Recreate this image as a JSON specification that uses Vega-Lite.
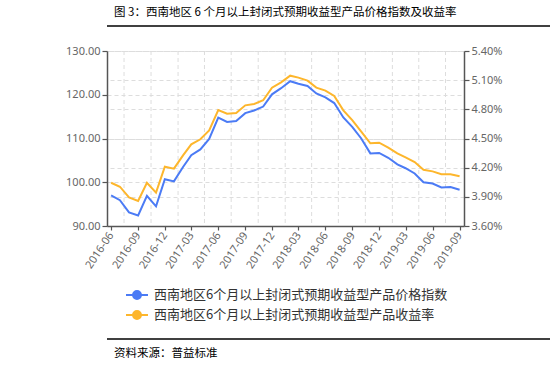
{
  "$schema": "https://vega.github.io/schema/vega-lite/v6.json",
  "background": "white",
  "padding": {"left": 3, "right": 3, "top": 6, "bottom": 4},
  "config": {
    "font": "Noto Sans CJK SC",
    "view": {"stroke": null},
    "axis": {"labelFont": "Noto Sans", "labelFontSize": 11, "labelColor": "#666666", "domainColor": "#555555", "domainWidth": 1.5, "tickColor": "#555555", "tickWidth": 1.2, "tickSize": 5, "gridColor": "#dddddd", "gridDash": [4, 3], "gridWidth": 1, "title": null}
  },
  "title": {"text": "图 3：西南地区 6 个月以上封闭式预期收益型产品价格指数及收益率", "anchor": "start", "frame": "group", "dx": 7, "fontSize": 11.5, "fontWeight": "normal", "color": "#000000", "font": "Noto Sans CJK SC", "offset": 7},
  "datasets": {
    "series": [
      {"date": "2016-06-01", "index": 97.0, "rate": 4.045},
      {"date": "2016-07-01", "index": 95.9, "rate": 4.004},
      {"date": "2016-08-01", "index": 93.1, "rate": 3.895},
      {"date": "2016-09-01", "index": 92.4, "rate": 3.857},
      {"date": "2016-10-01", "index": 96.9, "rate": 4.045},
      {"date": "2016-11-01", "index": 94.5, "rate": 3.943},
      {"date": "2016-12-01", "index": 100.7, "rate": 4.210},
      {"date": "2017-01-01", "index": 100.2, "rate": 4.190},
      {"date": "2017-02-01", "index": 103.5, "rate": 4.327},
      {"date": "2017-03-01", "index": 106.2, "rate": 4.440},
      {"date": "2017-04-01", "index": 107.5, "rate": 4.492},
      {"date": "2017-05-01", "index": 109.9, "rate": 4.584},
      {"date": "2017-06-01", "index": 114.8, "rate": 4.793},
      {"date": "2017-07-01", "index": 113.8, "rate": 4.755},
      {"date": "2017-08-01", "index": 114.0, "rate": 4.762},
      {"date": "2017-09-01", "index": 115.8, "rate": 4.841},
      {"date": "2017-10-01", "index": 116.4, "rate": 4.855},
      {"date": "2017-11-01", "index": 117.3, "rate": 4.893},
      {"date": "2017-12-01", "index": 120.1, "rate": 5.023},
      {"date": "2018-01-01", "index": 121.5, "rate": 5.078},
      {"date": "2018-02-01", "index": 123.1, "rate": 5.146},
      {"date": "2018-03-01", "index": 122.5, "rate": 5.126},
      {"date": "2018-04-01", "index": 122.0, "rate": 5.095},
      {"date": "2018-05-01", "index": 120.3, "rate": 5.023},
      {"date": "2018-06-01", "index": 119.4, "rate": 4.992},
      {"date": "2018-07-01", "index": 118.1, "rate": 4.937},
      {"date": "2018-08-01", "index": 114.8, "rate": 4.790},
      {"date": "2018-09-01", "index": 112.6, "rate": 4.687},
      {"date": "2018-10-01", "index": 110.0, "rate": 4.570},
      {"date": "2018-11-01", "index": 106.6, "rate": 4.451},
      {"date": "2018-12-01", "index": 106.7, "rate": 4.457},
      {"date": "2019-01-01", "index": 105.6, "rate": 4.405},
      {"date": "2019-02-01", "index": 104.1, "rate": 4.348},
      {"date": "2019-03-01", "index": 103.2, "rate": 4.306},
      {"date": "2019-04-01", "index": 102.0, "rate": 4.258},
      {"date": "2019-05-01", "index": 100.0, "rate": 4.179},
      {"date": "2019-06-01", "index": 99.7, "rate": 4.162},
      {"date": "2019-07-01", "index": 98.8, "rate": 4.132},
      {"date": "2019-08-01", "index": 98.9, "rate": 4.132},
      {"date": "2019-09-01", "index": 98.3, "rate": 4.111}
    ],
    "vgrid": [
      {"date": "2016-07-15"}, {"date": "2016-10-15"}, {"date": "2017-01-15"}, {"date": "2017-04-15"},
      {"date": "2017-07-15"}, {"date": "2017-10-15"}, {"date": "2018-01-15"}, {"date": "2018-04-15"},
      {"date": "2018-07-15"}, {"date": "2018-10-15"}, {"date": "2019-01-15"}, {"date": "2019-04-15"},
      {"date": "2019-07-15"}
    ]
  },
  "columns": 1,
  "align": "none",
  "spacing": 10,
  "concat": [
    {
      "width": 544,
      "height": 8.5,
      "data": {"values": [{}]},
      "mark": {"type": "rule", "color": "#000000", "strokeWidth": 1.5},
      "encoding": {"y": {"datum": 1, "type": "quantitative", "axis": null, "scale": {"domain": [0, 1]}}}
    },
    {
      "width": 357,
      "height": 175,
      "data": {"name": "series"},
      "encoding": {
        "x": {
          "field": "date", "type": "temporal",
          "scale": {"type": "utc", "domain": [{"year": 2016, "month": 5, "date": 18, "utc": true}, {"year": 2019, "month": 9, "date": 16, "utc": true}]},
          "axis": {
            "labelExpr": "utcFormat(datum.value, '%Y-%m')", "labelOverlap": false, "labelAngle": -56, "labelAlign": "right", "labelBaseline": "middle", "labelPadding": 3, "grid": false, "tickSize": 4,
            "values": [
              {"year": 2016, "month": 6, "date": 1, "utc": true}, {"year": 2016, "month": 9, "date": 1, "utc": true}, {"year": 2016, "month": 12, "date": 1, "utc": true},
              {"year": 2017, "month": 3, "date": 1, "utc": true}, {"year": 2017, "month": 6, "date": 1, "utc": true}, {"year": 2017, "month": 9, "date": 1, "utc": true}, {"year": 2017, "month": 12, "date": 1, "utc": true},
              {"year": 2018, "month": 3, "date": 1, "utc": true}, {"year": 2018, "month": 6, "date": 1, "utc": true}, {"year": 2018, "month": 9, "date": 1, "utc": true}, {"year": 2018, "month": 12, "date": 1, "utc": true},
              {"year": 2019, "month": 3, "date": 1, "utc": true}, {"year": 2019, "month": 6, "date": 1, "utc": true}, {"year": 2019, "month": 9, "date": 1, "utc": true}
            ]
          }
        }
      },
      "layer": [
        {
          "data": {"name": "vgrid"},
          "mark": {"type": "rule", "color": "#dddddd", "strokeDash": [4, 3], "strokeWidth": 1},
          "encoding": {}
        },
        {
          "mark": {"type": "line", "strokeWidth": 2},
          "encoding": {
            "y": {"field": "index", "type": "quantitative", "scale": {"domain": [90, 130], "zero": false, "nice": false},
              "axis": {"orient": "left", "values": [90, 100, 110, 120, 130], "format": ".2f", "minExtent": 104, "grid": true}},
            "color": {
              "datum": "西南地区6个月以上封闭式预期收益型产品价格指数", "type": "nominal",
              "scale": {"domain": ["西南地区6个月以上封闭式预期收益型产品价格指数", "西南地区6个月以上封闭式预期收益型产品收益率"], "range": ["#4b7bf5", "#fdb62c"]},
              "legend": {
                "orient": "none", "legendX": 18, "legendY": 257, "direction": "vertical", "title": null,
                "labelFont": "Noto Sans CJK SC", "labelFontSize": 13, "labelColor": "#333333", "labelLimit": 400, "labelOffset": 5,
                "symbolType": "M-1,0H1M-0.36,0A0.36,0.36 0 1,0 0.36,0A0.36,0.36 0 1,0 -0.36,0Z",
                "symbolSize": 484, "symbolStrokeWidth": 2, "rowPadding": 0,
                "encode": {"symbols": {"update": {"fill": {"scale": "color", "field": "value"}}}}
              }
            }
          }
        },
        {
          "mark": {"type": "line", "strokeWidth": 2},
          "encoding": {
            "y": {"field": "rate", "type": "quantitative", "scale": {"domain": [3.6, 5.4], "zero": false, "nice": false},
              "axis": {"orient": "right", "values": [3.6, 3.9, 4.2, 4.5, 4.8, 5.1, 5.4], "labelExpr": "format(datum.value, '.2f') + '%'", "grid": true}},
            "color": {"datum": "西南地区6个月以上封闭式预期收益型产品收益率", "type": "nominal"}
          }
        }
      ],
      "resolve": {"scale": {"y": "independent"}}
    },
    {
      "width": 544,
      "height": 58,
      "data": {"values": [{}]},
      "mark": {"type": "rule", "color": "#000000", "strokeWidth": 1.5},
      "encoding": {"y": {"datum": 0, "type": "quantitative", "axis": null, "scale": {"domain": [0, 1]}}},
      "title": {"text": "资料来源：普益标准", "orient": "bottom", "anchor": "start", "frame": "group", "dx": 7, "offset": 8, "fontSize": 11.5, "fontWeight": "normal", "color": "#000000", "font": "Noto Sans CJK SC"}
    }
  ]
}
